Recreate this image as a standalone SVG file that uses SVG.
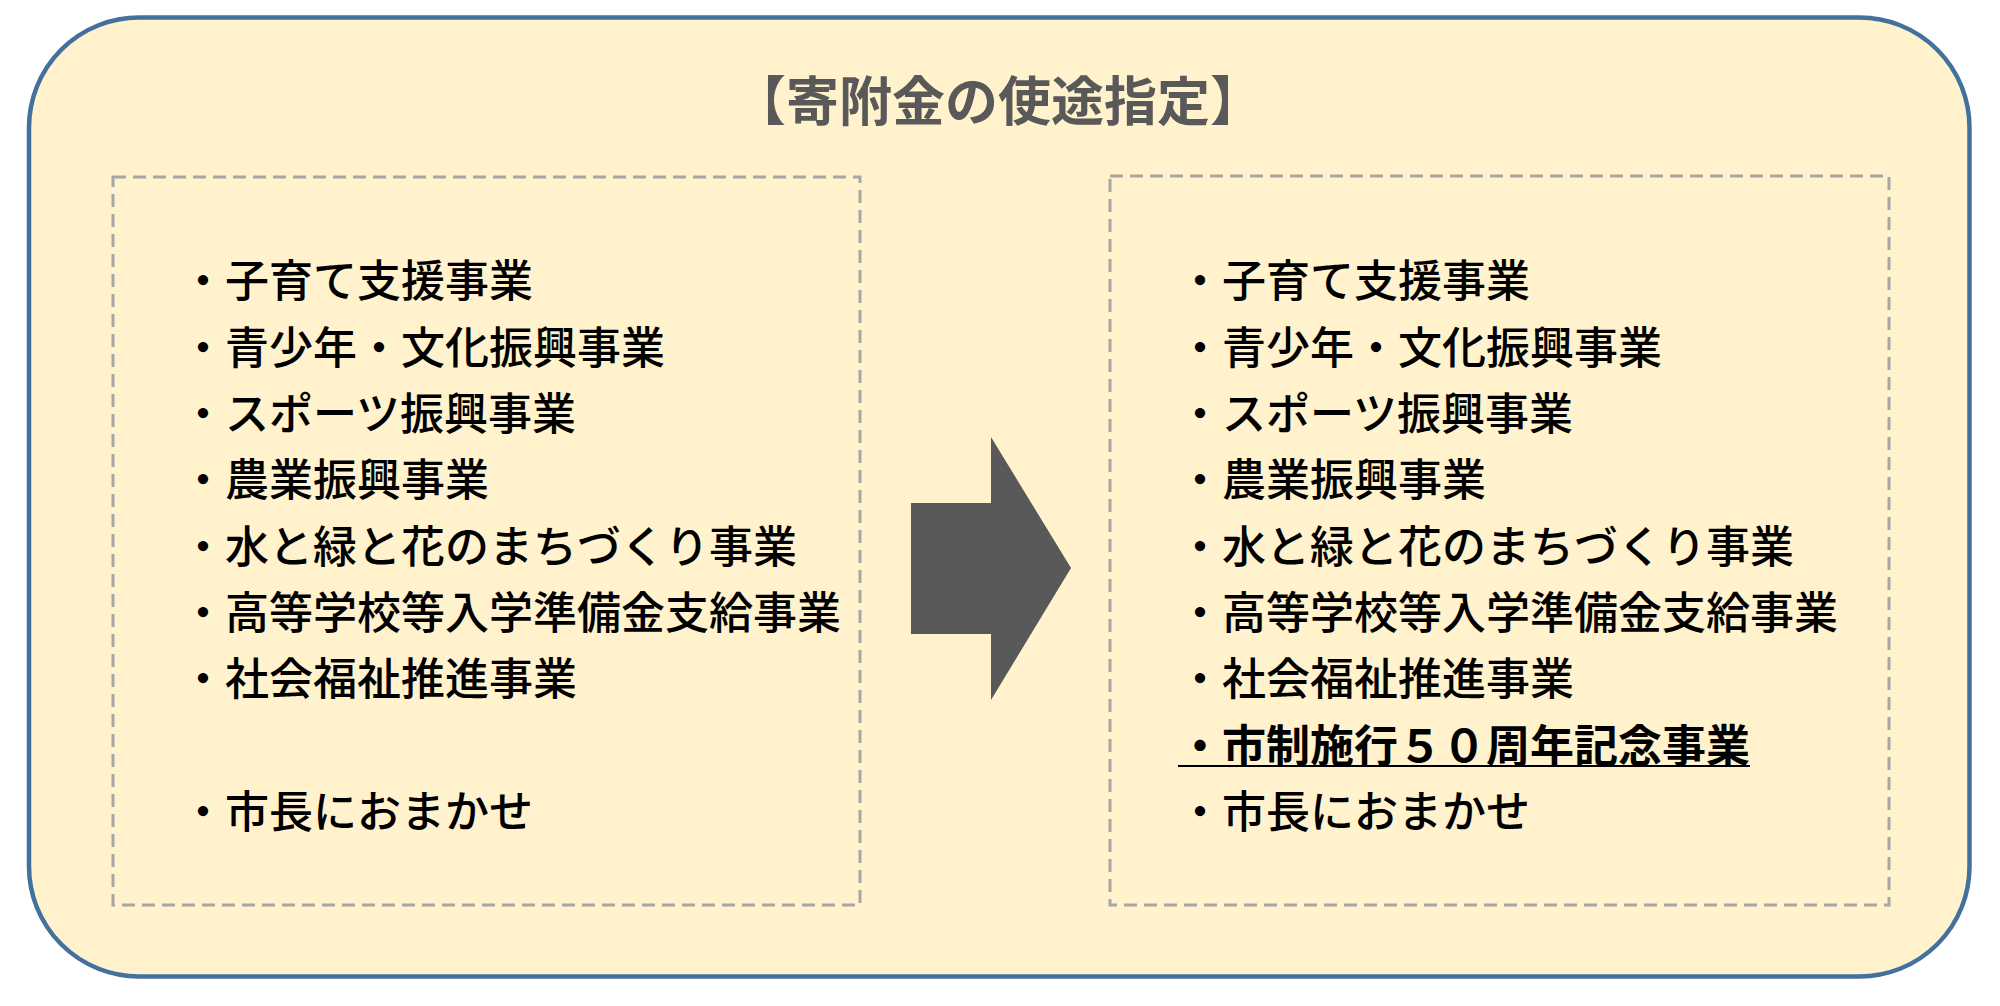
<svg xmlns="http://www.w3.org/2000/svg" width="2000" height="1006" viewBox="0 0 2000 1006">
<defs>
<style>
.frame{fill:#fff2cc;stroke:#41719c;stroke-width:4.5}
.dash{fill:none;stroke:#a6a6a6;stroke-width:3;stroke-dasharray:13 7}
.title{font-family:"Noto Sans CJK JP","Noto Sans CJK SC",sans-serif;font-size:53px;font-weight:bold;fill:#595959}
.item{font-family:"Noto Sans CJK JP","Noto Sans CJK SC",sans-serif;font-size:44px;font-weight:500;fill:#000}
.bold{font-weight:bold}
.arrow{fill:#595959}
</style>
</defs>
<rect width="2000" height="1006" fill="#ffffff"/>
<g id="frame">
<rect class="frame" x="29" y="17.5" width="1940.5" height="959" rx="110" ry="110"/>
<text class="title" x="998" y="121" text-anchor="middle">【寄附金の使途指定】</text>
</g>
<g id="before">
<rect class="dash" x="113" y="177" width="747" height="728"/>
<text class="item" x="181" y="297">・子育て支援事業</text>
<text class="item" x="181" y="363.5">・青少年・文化振興事業</text>
<text class="item" x="181" y="430">・スポーツ振興事業</text>
<text class="item" x="181" y="496">・農業振興事業</text>
<text class="item" x="181" y="562.5">・水と緑と花のまちづくり事業</text>
<text class="item" x="181" y="629">・高等学校等入学準備金支給事業</text>
<text class="item" x="181" y="695">・社会福祉推進事業</text>
<text class="item" x="181" y="828">・市長におまかせ</text>
</g>
<g id="connectors">
<polygon class="arrow" points="911,503 991,503 991,437 1071,568 991,700 991,634 911,634"/>
</g>
<g id="after">
<rect class="dash" x="1110" y="176" width="779" height="729"/>
<text class="item" x="1178" y="297">・子育て支援事業</text>
<text class="item" x="1178" y="363.5">・青少年・文化振興事業</text>
<text class="item" x="1178" y="430">・スポーツ振興事業</text>
<text class="item" x="1178" y="496">・農業振興事業</text>
<text class="item" x="1178" y="562.5">・水と緑と花のまちづくり事業</text>
<text class="item" x="1178" y="629">・高等学校等入学準備金支給事業</text>
<text class="item" x="1178" y="695">・社会福祉推進事業</text>
<text class="item bold" x="1178" y="761.5">・市制施行５０周年記念事業</text>
<line x1="1178" y1="766" x2="1750" y2="766" stroke="#000" stroke-width="2"/>
<text class="item" x="1178" y="828">・市長におまかせ</text>
</g>
</svg>
